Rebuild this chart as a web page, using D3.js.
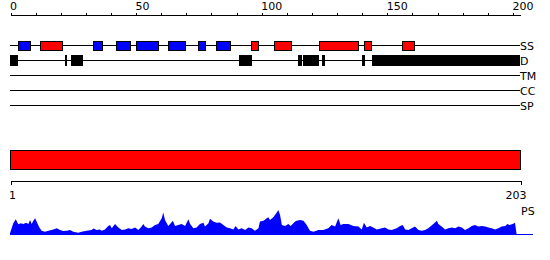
<!DOCTYPE html>
<html>
<head>
    <meta charset="utf-8">
    <title>protein features</title>
    <script src="https://d3js.org/d3.v7.min.js"></script>
    <style>
        body{
            margin:0;
            background:#fff;
            font-family:"DejaVu Sans";
        }
        text{
            font-size:11px;
            fill:#000;
        }
    </style>
</head>
<body>
<div id="chart"></div>
<script type="text/javascript">
    var seqLength = 203
    var topTicks = d3.range(0, 201, 10)
    var topLabels = [0, 50, 100, 150, 200]
    var tracks = ["SS", "D", "TM", "CC", "SP"]

    // secondary structure: start, end (residues), type
    var ssStart = [3, 12, 33, 42, 50, 63, 75, 82, 96, 105, 123, 141, 156]
    var ssEnd   = [8, 21, 37, 48, 59, 70, 78, 88, 99, 112, 139, 144, 161]
    var ssType  = ["E","H","E","E","E","E","E","E","H","H","H","H","H"]

    // disorder blocks
    var dStart = [0, 22, 24.2, 91, 114.6, 116.8, 124, 140, 144]
    var dEnd   = [3, 22.8, 28.8, 96, 116, 123.2, 125, 141, 202.8]

    // PS profile, residue position and score
    var psPos = [0,1.3,2.3,3.3,4.3,5.3,6.4,7.3,8,8.6,9.3,10,10.6,11.7,12.6,13.9,15.3,17.3,18.6,19.9,
        21.2,22.6,23.9,25.2,27.2,28.5,30.5,32.5,33.2,34.5,35.8,36.5,37.8,39.1,39.8,40.5,41.8,43.1,44.5,45.8,
        47.1,48.4,49.8,51.1,52.4,53.1,53.7,55.1,56.4,57.7,59,60.4,61,61.7,63,64,64.8,65.7,67,68.3,
        69.7,71,71.7,73,74.3,75.6,77,77.6,79,79.6,80.9,82.3,83.6,84.9,86.3,87.6,88.9,89.8,90.9,92.2,
        93.6,94.9,96.2,97.5,98.9,99.5,100.9,102.2,102.8,103.5,104.8,106.2,106.8,107.5,108.2,109.5,110.8,111.7,112.8,113.5,
        114.1,115.5,116.8,118.1,119.4,120.8,122.7,124.7,126.7,128,129.4,130.7,131.6,132.7,134.7,136.7,138.7,140,140.9,142,
        143.3,144.6,146,148,149.3,150.6,151.9,153.9,155.3,156.3,157.3,158.6,159.9,161.2,162.6,163.9,165.2,166.5,168.5,169.9,
        170.5,171.8,173.2,174.5,175.8,177.2,178.5,179.8,181.1,182.5,183.8,185.1,186.4,187.8,189.1,190.4,191.7,193.1,194.4,195.7,
        197.1,198,198.8,200.1,201,201.7]
    var psVal = [0.06,0.42,0.56,0.38,0.42,0.39,0.44,0.39,0.54,0.39,0.51,0.6,0.48,0.27,0.15,0.12,0.15,0.2,0.24,0.18,
        0.14,0.15,0.18,0.12,0.08,0.12,0.15,0.18,0.23,0.18,0.2,0.15,0.2,0.32,0.36,0.24,0.39,0.27,0.18,0.2,
        0.24,0.21,0.27,0.18,0.3,0.39,0.3,0.24,0.27,0.36,0.39,0.6,0.8,0.54,0.32,0.42,0.51,0.32,0.36,0.39,
        0.32,0.56,0.39,0.24,0.27,0.39,0.44,0.3,0.42,0.58,0.48,0.44,0.45,0.36,0.27,0.24,0.2,0.32,0.2,0.24,
        0.18,0.27,0.24,0.15,0.24,0.48,0.51,0.6,0.63,0.54,0.63,0.8,0.89,0.71,0.36,0.32,0.39,0.32,0.42,0.48,
        0.51,0.54,0.51,0.36,0.15,0.12,0.18,0.18,0.24,0.36,0.3,0.6,0.36,0.39,0.39,0.32,0.3,0.2,0.44,0.27,
        0.32,0.27,0.2,0.24,0.27,0.2,0.18,0.24,0.32,0.36,0.2,0.18,0.24,0.3,0.18,0.15,0.18,0.24,0.39,0.51,
        0.39,0.3,0.2,0.24,0.27,0.24,0.3,0.27,0.18,0.24,0.32,0.36,0.3,0.32,0.3,0.27,0.24,0.2,0.24,0.3,
        0.32,0.39,0.36,0.39,0.44,0]

    var w = 550
    var h = 260

    var x = d3.scaleLinear().domain([0, seqLength]).range([10, 520])
    var xb = d3.scaleLinear().domain([1, seqLength]).range([10, 520])
    var trackY = d3.scalePoint().domain(tracks).range([45, 105])
    var ssColor = d3.scaleOrdinal().domain(["H", "E"]).range(["#ff0000", "#0000ff"])
    var psY = d3.scaleLinear().domain([0, 1]).range([235, 207])

    var svg = d3.select("#chart").append("svg")
        .attr("width", w)
        .attr("height", h)
        .attr("shape-rendering", "crispEdges")

    // top ruler
    var topAxis = d3.axisTop(x)
        .tickValues(topTicks)
        .tickSize(3)
        .tickFormat("")
    var gTop = svg.append("g")
        .attr("transform", "translate(0.5,15.5)")
        .call(topAxis)
    gTop.select(".domain").attr("d", "M" + x(0) + ",0H" + x(seqLength)).attr("stroke", "#000")
    gTop.selectAll(".tick line").attr("stroke", "#000")

    svg.selectAll(".toplabel")
        .data(topLabels)
        .enter()
        .append("text")
        .attr("class", "toplabel")
        .attr("x", function(d){ return x(d) })
        .attr("y", 10)
        .text(function(d){ return d })

    // track lines + labels
    svg.selectAll(".trackline")
        .data(tracks)
        .enter()
        .append("line")
        .attr("class", "trackline")
        .attr("x1", x(0))
        .attr("x2", x(seqLength))
        .attr("y1", function(d){ return trackY(d) + 0.5 })
        .attr("y2", function(d){ return trackY(d) + 0.5 })
        .attr("stroke", "#000")

    svg.selectAll(".tracklabel")
        .data(tracks)
        .enter()
        .append("text")
        .attr("class", "tracklabel")
        .attr("x", x(seqLength))
        .attr("y", function(d){ return trackY(d) + 4.5 })
        .text(function(d){ return d })

    // secondary structure
    svg.selectAll(".ss")
        .data(d3.range(ssStart.length))
        .enter()
        .append("rect")
        .attr("class", "ss")
        .attr("x", function(i){ return Math.round(x(ssStart[i])) + 0.5 })
        .attr("y", trackY("SS") - 3.5)
        .attr("width", function(i){ return Math.round(x(ssEnd[i]) - x(ssStart[i])) - 1 })
        .attr("height", 9)
        .attr("fill", function(i){ return ssColor(ssType[i]) })
        .attr("stroke", "#000")

    // disorder
    svg.selectAll(".dis")
        .data(d3.range(dStart.length))
        .enter()
        .append("rect")
        .attr("class", "dis")
        .attr("x", function(i){ return Math.round(x(dStart[i])) + 0.5 })
        .attr("y", trackY("D") - 4.5)
        .attr("width", function(i){ return Math.max(1, Math.round(x(dEnd[i]) - x(dStart[i])) - 1) })
        .attr("height", 10)
        .attr("fill", "#000")
        .attr("stroke", "#000")

    // full-length bar
    svg.append("rect")
        .attr("x", xb(1) + 0.5)
        .attr("y", 150.5)
        .attr("width", xb(seqLength) - xb(1))
        .attr("height", 19)
        .attr("fill", "#ff0000")
        .attr("stroke", "#000")

    var bottomAxis = d3.axisBottom(xb)
        .tickValues([1, seqLength])
        .tickSize(4)
        .tickSizeOuter(0)
        .tickFormat("")
    var gBot = svg.append("g")
        .attr("transform", "translate(0.5,180.5)")
        .call(bottomAxis)
    gBot.select(".domain").attr("stroke", "#000")
    gBot.selectAll(".tick line").attr("stroke", "#000")

    svg.append("text").text("1").attr("x", xb(1) - 1).attr("y", 199)
    svg.append("text").text(seqLength).attr("x", xb(seqLength) - 4).attr("y", 199).attr("text-anchor", "middle")

    // PS profile
    var psData = d3.range(psPos.length).map(function(i){ return [psPos[i], psVal[i]] })
    var area = d3.area()
        .x(function(d){ return x(d[0]) })
        .y0(psY(0))
        .y1(function(d){ return psY(d[1]) })

    svg.append("path")
        .datum(psData)
        .attr("d", area)
        .attr("fill", "#0000ff")
        .attr("shape-rendering", "auto")

    svg.append("line")
        .attr("x1", x(0))
        .attr("x2", x(seqLength) + 13)
        .attr("y1", psY(0) - 0.5)
        .attr("y2", psY(0) - 0.5)
        .attr("stroke", "#0000ff")

    svg.append("text").text("PS").attr("x", 521).attr("y", 215)
</script>
</body>
</html>
